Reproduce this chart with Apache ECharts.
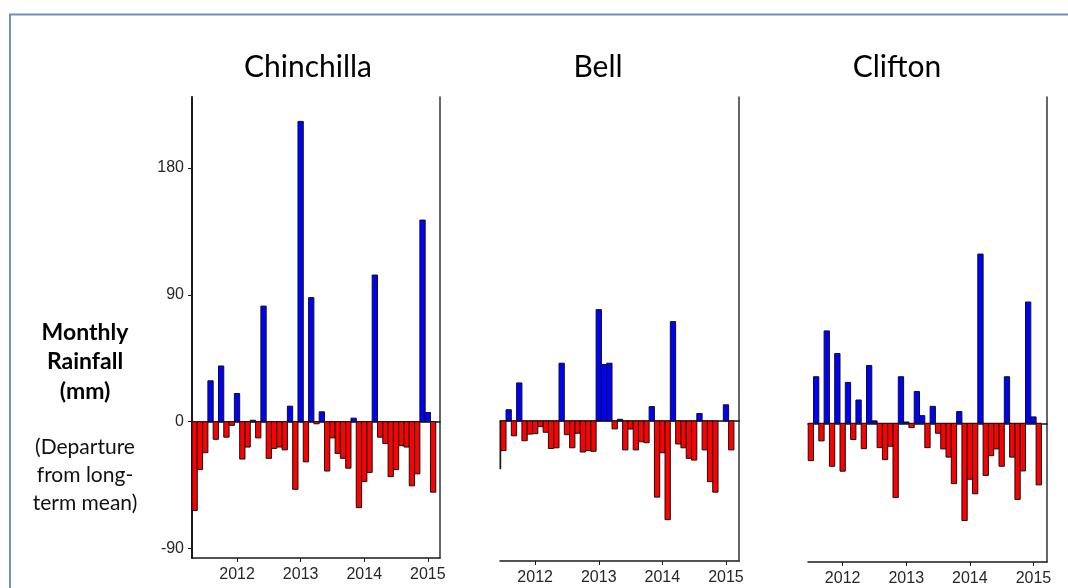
<!DOCTYPE html>
<html>
<head>
<meta charset="utf-8">
<script src="https://cdn.jsdelivr.net/npm/echarts@6/dist/echarts.min.js"></script>
<style>
  html, body { margin: 0; padding: 0; background: #fff; }
  #chart { width: 1068px; height: 588px; }
</style>
</head>
<body>
<div id="chart"></div>
<script>
// Months shown on every panel (May 2011 – Feb 2015)
const months = [
  '2011-05','2011-06','2011-07','2011-08','2011-09','2011-10','2011-11','2011-12',
  '2012-01','2012-02','2012-03','2012-04','2012-05','2012-06','2012-07','2012-08','2012-09','2012-10','2012-11','2012-12',
  '2013-01','2013-02','2013-03','2013-04','2013-05','2013-06','2013-07','2013-08','2013-09','2013-10','2013-11','2013-12',
  '2014-01','2014-02','2014-03','2014-04','2014-05','2014-06','2014-07','2014-08','2014-09','2014-10','2014-11','2014-12',
  '2015-01','2015-02'
];

// Monthly rainfall departure from the long-term mean (mm); null = no record
const chinchilla = [
  -63, -34, -22, 29, -12.5, 39.5, -11, -2.6,
  20, -26.5, -18, 1, -11.5, 82, -26, -19, -18, -20, 11, -48,
  213, -28.5, 88, -1.5, 7, -35, -11.5, -22.5, -26, -33, 2.5, -61,
  -42.5, -36, 104, -11, -15.5, -39, -34, -17, -18, -45.5, -37, 143,
  6.5, -50
];
const bell = [
  null, -34, -21, 8, -10.5, 27, -14, -9.3,
  -9, -4, -8, -19.5, -19, 41, -9.7, -19, -8.7, -22, -21, -21.5,
  79, 40, 41, -5.6, 1.2, -20.5, -5.7, -20.5, -14.7, -15.4, 10.2, -54,
  -22.5, -70, 70.5, -16.3, -19, -26.5, -27.7, 5.3, -20.5, -43, -50.5, null,
  11.5, -20.5
];
const clifton = [
  null, null, -26.5, 33, -12.5, 65.5, -30.5, 49.5,
  -34, 29, -11.5, 16.5, -18, 41, 1.7, -17.3, -25.8, -16.3, -52.7, 33,
  0.9, -3.1, 22.5, 5.4, -17.3, 12, -7.1, -18.2, -24, -42.8, 8.3, -69,
  -39.7, -50, 120, -37, -23, -18.2, -30.5, 33, -24, -54, -33.8, 86,
  4.5, -43.7
];

const yearTicks = [2012, 2013, 2014, 2015];
const yTicks = [-90, 0, 90, 180];

const stations = [
  { name: 'Chinchilla', values: chinchilla },
  { name: 'Bell', values: bell },
  { name: 'Clifton', values: clifton }
];

// Panel geometry (pixels) and axis windows
const panels = [
  { left: 192, width: 248, top: 97, height: 461, xMin: 2011.292, yMin: -96.7, yMax: 230.3, showY: true,  titleX: 308 },
  { left: 500, width: 239, top: 97, height: 464, xMin: 2011.447, yMin: -99.3, yMax: 229.8, showY: false, titleX: 598 },
  { left: 808, width: 239, top: 97, height: 465, xMin: 2011.455, yMin: -98.4, yMax: 231.4, showY: false, titleX: 897 }
];
const PX_PER_YEAR = 63.6;
const HALF_MONTH = 1 / 24;

function monthToYear(m) {
  const [y, mo] = m.split('-').map(Number);
  return y + (mo - 1) / 12;
}

const BLUE = '#0000ff';
const RED = '#ff0000';
const AXIS = '#1a1a1a';

function renderBar(params, api) {
  const t = api.value(0);
  const v = api.value(1);
  const a = api.coord([t - HALF_MONTH, 0]);
  const b = api.coord([t + HALF_MONTH, v]);
  const cs = params.coordSys;
  const shape = echarts.graphic.clipRectByRect(
    { x: a[0], y: Math.min(a[1], b[1]), width: b[0] - a[0], height: Math.abs(b[1] - a[1]) },
    { x: cs.x, y: cs.y, width: cs.width, height: cs.height }
  );
  if (!shape) return null;
  return {
    type: 'rect',
    shape: shape,
    style: { fill: v >= 0 ? BLUE : RED, stroke: '#111', lineWidth: 1 }
  };
}

const grid = [], xAxis = [], yAxis = [], series = [], graphic = [];

panels.forEach((p, i) => {
  const xMax = p.xMin + p.width / PX_PER_YEAR;
  grid.push({ left: p.left, top: p.top, width: p.width, height: p.height });

  // bottom time axis
  xAxis.push({
    type: 'value', gridIndex: i, min: p.xMin, max: xMax,
    axisLine: { onZero: false, lineStyle: { color: AXIS, width: 1.5 } },
    axisTick: { show: true, length: 4, customValues: yearTicks, lineStyle: { color: AXIS } },
    axisLabel: {
      customValues: yearTicks, margin: 9,
      fontFamily: 'Liberation Sans', fontSize: 16, color: '#262626',
      formatter: v => String(Math.round(v))
    },
    splitLine: { show: false }
  });
  // zero reference line
  xAxis.push({
    type: 'value', gridIndex: i, min: p.xMin, max: xMax, position: 'bottom',
    axisLine: { onZero: true, onZeroAxisIndex: i * 2, lineStyle: { color: '#111', width: 1.5 } },
    axisTick: { show: false }, axisLabel: { show: false }, splitLine: { show: false }
  });

  // value axis (labelled on the first panel only)
  yAxis.push({
    type: 'value', gridIndex: i, min: p.yMin, max: p.yMax, position: 'left',
    axisLine: { show: p.showY, onZero: false, lineStyle: { color: AXIS, width: 2 } },
    axisTick: { show: p.showY, length: 4, customValues: yTicks, lineStyle: { color: AXIS } },
    axisLabel: {
      show: p.showY, customValues: yTicks, margin: 8,
      fontFamily: 'Liberation Sans', fontSize: 16, color: '#262626'
    },
    splitLine: { show: false }
  });
  // right-hand border line
  yAxis.push({
    type: 'value', gridIndex: i, min: p.yMin, max: p.yMax, position: 'right',
    axisLine: { show: true, onZero: false, lineStyle: { color: '#333', width: 1.5 } },
    axisTick: { show: false }, axisLabel: { show: false }, splitLine: { show: false }
  });

  const data = [];
  stations[i].values.forEach((v, k) => {
    if (v !== null) data.push([monthToYear(months[k]), v]);
  });
  series.push({
    type: 'custom', name: stations[i].name,
    xAxisIndex: i * 2, yAxisIndex: i * 2,
    renderItem: renderBar, data: data, z: 3
  });

  graphic.push({
    type: 'text', x: p.titleX, y: 67,
    style: {
      text: stations[i].name, align: 'center', verticalAlign: 'middle',
      fontFamily: 'Lato', fontSize: 30, fill: '#000'
    }
  });
});

// Axis caption on the left
graphic.push({
  type: 'text', x: 85, y: 362,
  style: {
    text: 'Monthly\nRainfall\n(mm)', align: 'center', verticalAlign: 'middle',
    fontFamily: 'Lato', fontWeight: 'bold', fontSize: 23, lineHeight: 29.5, fill: '#000'
  }
});
graphic.push({
  type: 'text', x: 85, y: 475,
  style: {
    text: '(Departure\nfrom long-\nterm mean)', align: 'center', verticalAlign: 'middle',
    fontFamily: 'Lato', fontSize: 21, lineHeight: 28, fill: '#111'
  }
});

// Slide frame (top and left edges)
graphic.push({
  type: 'polyline',
  shape: { points: [[10, 588], [10, 14.5], [1068, 14.5]] },
  style: { stroke: '#6f8fc2', lineWidth: 2, fill: null }
});

const chart = echarts.init(document.getElementById('chart'), null, { renderer: 'canvas' });
chart.setOption({
  animation: false,
  backgroundColor: '#fff',
  grid: grid,
  xAxis: xAxis,
  yAxis: yAxis,
  series: series,
  graphic: graphic
});
</script>
</body>
</html>
